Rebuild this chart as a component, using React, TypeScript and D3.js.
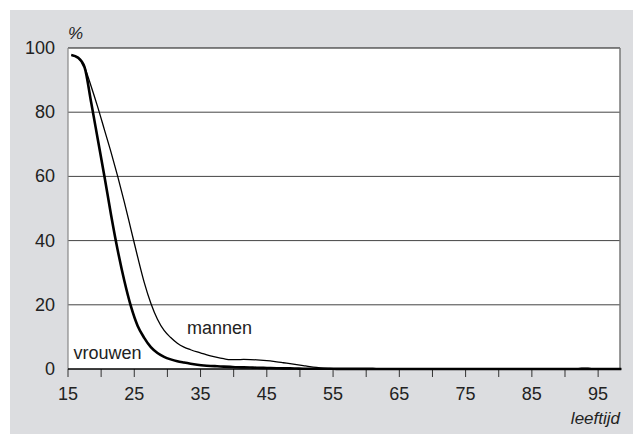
import React from "react";
import * as d3 from "d3";

const ages: number[] = d3.range(15, 99);

const vrouwenHead: number[] = [97.8, 97, 94, 83, 71.5, 60, 48, 37, 27.5, 19.5, 13.5, 9.7, 6.8, 5, 3.8, 3.0, 2.4, 2.0, 1.65, 1.35, 1.1, 0.95, 0.85, 0.75, 0.65, 0.55, 0.5, 0.45, 0.4, 0.35, 0.3, 0.25, 0.2, 0.2, 0.15, 0.1, 0.1, 0.1, 0.1, 0.1, 0.05, 0.05, 0.05, 0.05, 0.05, 0.05];
const mannenHead: number[] = [97.8, 97, 94, 88, 81.5, 74.5, 67.5, 60, 52, 43.5, 35, 27, 20.5, 15.5, 12, 9.8, 8, 6.8, 6, 5.3, 4.7, 4.1, 3.6, 3.2, 2.9, 2.9, 3.0, 2.95, 2.85, 2.7, 2.5, 2.25, 1.95, 1.65, 1.35, 1.05, 0.75, 0.5, 0.3, 0.2, 0.12, 0.08, 0.05, 0.05, 0.05, 0.05, 0.05, 0.05];

const vrouwen: number[] = ages.map((a, i) => (i < vrouwenHead.length ? vrouwenHead[i] : 0));
const mannen: number[] = ages.map((a, i) => (i < mannenHead.length ? mannenHead[i] : a === 92 || a === 93 ? 0.3 : 0));

const yTicks: number[] = [0, 20, 40, 60, 80, 100];
const xLabelTicks: number[] = [15, 25, 35, 45, 55, 65, 75, 85, 95];
const xMinorTicks: number[] = d3.range(15, 99, 5);

const W = 633;
const H = 434;
const left = 68;
const right = 620;
const top = 48;
const bottom = 369;
const font = "'Liberation Sans', Arial, sans-serif";

export default function App() {
  const x = d3.scaleLinear().domain([15, 98.3]).range([left, right]);
  const y = d3.scaleLinear().domain([0, 100]).range([bottom, top]);
  const line = d3
    .line<number>()
    .x((_, i) => x(ages[i] + 0.5))
    .y((d) => y(d))
    .curve(d3.curveMonotoneX);

  return (
    <svg width={W} height={H} style={{ position: "absolute", left: 0, top: 0 }}>
      <rect x={10} y={10} width={W - 10} height={H - 10} fill="#dcdde0" />
      <rect x={left} y={top} width={right - left} height={bottom - top} fill="#ffffff" />
      {yTicks.filter((t) => t > 0 && t < 100).map((t) => (
        <line key={t} x1={left} x2={right} y1={y(t)} y2={y(t)} stroke="#444" strokeWidth={1} />
      ))}
      <line x1={left} x2={right} y1={y(100)} y2={y(100)} stroke="#111" strokeWidth={1.2} />
      <line x1={right} x2={right} y1={top} y2={bottom} stroke="#777" strokeWidth={1.5} />
      <line x1={left} x2={left} y1={top} y2={bottom} stroke="#888" strokeWidth={1.2} />
      {xMinorTicks.map((t) => (
        <line key={t} x1={x(t)} x2={x(t)} y1={bottom} y2={bottom + 8} stroke="#333" strokeWidth={1} />
      ))}
      <path d={line(mannen) || ""} fill="none" stroke="#000" strokeWidth={1.3} />
      <path d={line(vrouwen) || ""} fill="none" stroke="#000" strokeWidth={2.6} />
      <line x1={left} x2={right} y1={bottom} y2={bottom} stroke="#000" strokeWidth={1.5} />
      {yTicks.map((t) => (
        <text key={t} x={55} y={y(t) + 6} textAnchor="end" fontFamily={font} fontSize={18} fill="#222">
          {t}
        </text>
      ))}
      {xLabelTicks.map((t) => (
        <text key={t} x={x(t)} y={399.5} textAnchor="middle" fontFamily={font} fontSize={18} fill="#222">
          {t}
        </text>
      ))}
      <text x={68} y={39} fontFamily={font} fontSize={17} fontStyle="italic" fill="#222">%</text>
      <text x={620} y={424} textAnchor="end" fontFamily={font} fontSize={17} fontStyle="italic" fill="#222">leeftijd</text>
      <text x={187} y={334} fontFamily={font} fontSize={18} fill="#222">mannen</text>
      <text x={73.5} y={358.5} fontFamily={font} fontSize={18} fill="#222">vrouwen</text>
    </svg>
  );
}
